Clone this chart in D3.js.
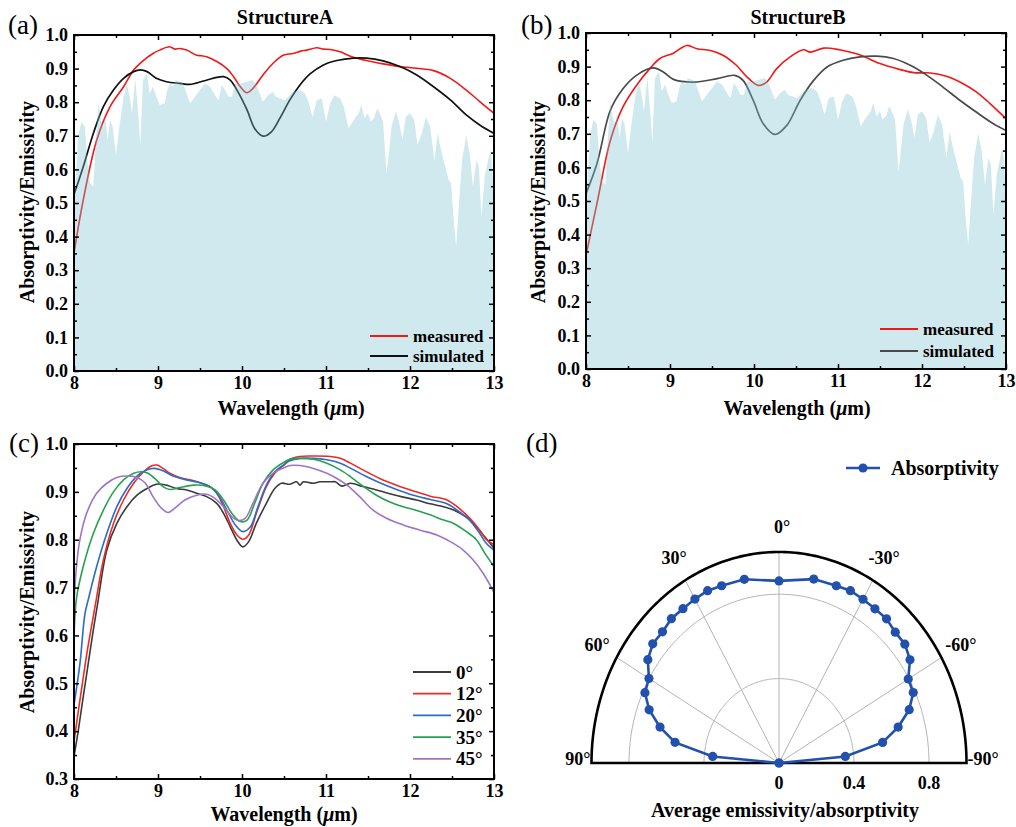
<!DOCTYPE html>
<html>
<head>
<meta charset="utf-8">
<script src="https://cdn.jsdelivr.net/npm/d3@7"></script>
<style>
  body { margin: 0; background: #fff; }
  svg text { font-family: "Liberation Serif", "Times New Roman", serif; }
</style>
</head>
<body>
<svg id="fig" width="1016" height="827"></svg>
<script>
// ---------- Spectra: [wavelength (µm), absorptivity] ----------
const atmosphericWindow = [
  [8.00,0.50],[8.01,0.53],[8.05,0.70],[8.09,0.742],[8.13,0.727],[8.16,0.62],[8.19,0.56],[8.23,0.548],
  [8.26,0.688],[8.29,0.797],[8.32,0.747],[8.35,0.727],[8.37,0.762],[8.40,0.688],[8.43,0.747],[8.46,0.727],
  [8.50,0.643],[8.54,0.727],[8.59,0.816],[8.63,0.856],[8.67,0.806],[8.69,0.766],[8.73,0.871],[8.77,0.747],
  [8.79,0.673],[8.82,0.866],[8.87,0.886],[8.90,0.826],[8.94,0.846],[8.98,0.816],[9.02,0.792],[9.08,0.797],
  [9.11,0.836],[9.14,0.856],[9.18,0.846],[9.21,0.866],[9.26,0.861],[9.30,0.856],[9.34,0.826],[9.38,0.797],
  [9.44,0.816],[9.50,0.836],[9.56,0.856],[9.62,0.846],[9.68,0.821],[9.72,0.806],[9.76,0.851],[9.80,0.836],
  [9.84,0.816],[9.88,0.816],[9.92,0.856],[9.98,0.856],[10.06,0.861],[10.13,0.866],[10.18,0.846],[10.25,0.801],
  [10.31,0.821],[10.37,0.831],[10.40,0.816],[10.46,0.811],[10.51,0.806],[10.55,0.816],[10.61,0.831],[10.69,0.836],
  [10.75,0.826],[10.79,0.801],[10.84,0.757],[10.89,0.806],[10.95,0.811],[11.00,0.742],[11.05,0.797],[11.10,0.821],
  [11.17,0.811],[11.21,0.787],[11.27,0.722],[11.33,0.747],[11.39,0.767],[11.42,0.792],[11.46,0.752],[11.50,0.767],
  [11.53,0.742],[11.57,0.752],[11.61,0.782],[11.64,0.767],[11.68,0.742],[11.72,0.588],[11.74,0.628],[11.78,0.727],
  [11.83,0.772],[11.87,0.742],[11.91,0.688],[11.95,0.757],[12.00,0.767],[12.05,0.747],[12.09,0.673],[12.14,0.707],
  [12.19,0.757],[12.24,0.727],[12.29,0.628],[12.33,0.707],[12.36,0.668],[12.42,0.608],[12.46,0.569],[12.49,0.558],
  [12.52,0.449],[12.55,0.370],[12.57,0.449],[12.62,0.628],[12.67,0.702],[12.71,0.648],[12.75,0.549],[12.79,0.628],
  [12.82,0.608],[12.85,0.459],[12.89,0.579],[12.93,0.628],[12.96,0.66],[12.98,0.60],[13.00,0.50]
];

const measuredA = [
  [8.00,0.351],[8.11,0.509],[8.27,0.687],[8.43,0.787],[8.59,0.846],[8.71,0.896],[8.81,0.921],[8.94,0.945],
  [9.02,0.955],[9.14,0.965],[9.20,0.958],[9.26,0.960],[9.34,0.955],[9.46,0.940],[9.52,0.938],[9.58,0.935],
  [9.70,0.921],[9.82,0.900],[9.90,0.876],[9.98,0.846],[10.06,0.828],[10.13,0.841],[10.25,0.881],[10.37,0.916],
  [10.49,0.940],[10.61,0.945],[10.70,0.952],[10.77,0.955],[10.89,0.962],[10.97,0.958],[11.05,0.957],[11.17,0.950],
  [11.29,0.937],[11.48,0.924],[11.68,0.914],[11.88,0.906],[12.08,0.901],[12.28,0.894],[12.48,0.871],[12.67,0.836],
  [12.83,0.802],[13.00,0.767]
];
const simulatedA = [
  [8.00,0.525],[8.11,0.608],[8.23,0.707],[8.35,0.787],[8.47,0.836],[8.59,0.871],[8.71,0.891],[8.79,0.896],
  [8.87,0.891],[8.98,0.871],[9.10,0.861],[9.26,0.856],[9.38,0.853],[9.54,0.863],[9.70,0.874],[9.78,0.876],
  [9.86,0.866],[9.94,0.836],[10.06,0.777],[10.15,0.722],[10.25,0.699],[10.35,0.712],[10.45,0.752],[10.57,0.807],
  [10.69,0.851],[10.81,0.884],[10.97,0.911],[11.13,0.924],[11.33,0.931],[11.48,0.931],[11.68,0.923],[11.88,0.906],
  [12.08,0.881],[12.28,0.846],[12.48,0.807],[12.67,0.762],[12.83,0.732],[13.00,0.707]
];
const measuredB = [
  [8.00,0.338],[8.13,0.492],[8.29,0.680],[8.44,0.780],[8.60,0.844],[8.76,0.894],[8.88,0.924],[9.04,0.940],
  [9.20,0.963],[9.32,0.953],[9.48,0.948],[9.63,0.934],[9.79,0.904],[9.91,0.871],[10.05,0.844],[10.15,0.854],
  [10.27,0.894],[10.43,0.929],[10.59,0.950],[10.67,0.943],[10.83,0.955],[11.02,0.950],[11.22,0.938],[11.30,0.931],
  [11.50,0.909],[11.70,0.894],[11.90,0.882],[12.10,0.881],[12.29,0.871],[12.49,0.849],[12.65,0.824],[12.81,0.790],
  [13.00,0.745]
];
const simulatedB = [
  [8.00,0.522],[8.13,0.611],[8.29,0.770],[8.44,0.834],[8.60,0.874],[8.80,0.896],[8.92,0.884],[9.04,0.862],
  [9.28,0.854],[9.56,0.864],[9.77,0.874],[9.87,0.859],[9.99,0.800],[10.11,0.730],[10.25,0.698],[10.39,0.725],
  [10.55,0.800],[10.71,0.859],[10.87,0.899],[11.06,0.919],[11.26,0.929],[11.46,0.931],[11.66,0.924],[11.86,0.904],
  [12.06,0.874],[12.25,0.839],[12.45,0.800],[12.65,0.764],[12.85,0.730],[13.00,0.710]
];

// Angle-resolved spectra (panel c)
const angleLabels = ["0°", "12°", "20°", "35°", "45°"];
const angleColors = ["#3a3a3a", "#ee2a24", "#2a6cc8", "#27a050", "#a074c4"];
const spectrum0 = [
  [8.00,0.347],[8.05,0.40],[8.10,0.46],[8.16,0.53],[8.22,0.60],[8.28,0.665],[8.39,0.778],[8.51,0.834],
  [8.63,0.869],[8.75,0.893],[8.87,0.907],[8.98,0.916],[9.10,0.914],[9.22,0.907],[9.34,0.904],[9.46,0.897],
  [9.58,0.890],[9.70,0.876],[9.78,0.855],[9.86,0.827],[9.94,0.799],[10.01,0.785],[10.08,0.796],[10.17,0.834],
  [10.29,0.876],[10.39,0.907],[10.47,0.918],[10.57,0.916],[10.65,0.921],[10.69,0.914],[10.73,0.921],[10.85,0.918],
  [10.93,0.921],[11.05,0.921],[11.11,0.921],[11.19,0.912],[11.29,0.918],[11.44,0.911],[11.60,0.904],[11.76,0.896],
  [11.92,0.889],[12.08,0.883],[12.24,0.875],[12.40,0.869],[12.52,0.862],[12.67,0.847],[12.79,0.827],[12.89,0.806],
  [13.00,0.782]
];
const spectrum12 = [
  [8.00,0.378],[8.05,0.44],[8.10,0.50],[8.16,0.57],[8.22,0.63],[8.26,0.67],[8.35,0.758],[8.47,0.834],
  [8.59,0.883],[8.71,0.918],[8.83,0.942],[8.92,0.954],[8.99,0.956],[9.06,0.949],[9.14,0.939],[9.26,0.930],
  [9.38,0.925],[9.50,0.919],[9.62,0.911],[9.70,0.897],[9.78,0.869],[9.86,0.834],[9.94,0.810],[10.01,0.801],
  [10.08,0.810],[10.17,0.855],[10.29,0.911],[10.39,0.939],[10.51,0.958],[10.57,0.968],[10.69,0.974],[10.85,0.975],
  [11.05,0.974],[11.17,0.970],[11.29,0.960],[11.44,0.946],[11.64,0.928],[11.84,0.914],[12.04,0.902],[12.24,0.891],
  [12.44,0.883],[12.56,0.869],[12.71,0.845],[12.83,0.820],[12.91,0.800],[13.00,0.790]
];
const spectrum20 = [
  [8.00,0.455],[8.07,0.54],[8.13,0.645],[8.17,0.675],[8.27,0.744],[8.39,0.813],[8.51,0.869],[8.63,0.907],
  [8.75,0.933],[8.87,0.946],[8.96,0.949],[9.06,0.944],[9.18,0.933],[9.34,0.925],[9.50,0.919],[9.62,0.911],
  [9.72,0.893],[9.82,0.862],[9.92,0.831],[10.01,0.817],[10.10,0.827],[10.19,0.869],[10.29,0.914],[10.39,0.942],
  [10.51,0.958],[10.57,0.965],[10.69,0.970],[10.85,0.970],[11.01,0.967],[11.17,0.960],[11.33,0.946],[11.48,0.932],
  [11.64,0.919],[11.84,0.905],[12.04,0.893],[12.24,0.884],[12.44,0.875],[12.59,0.858],[12.71,0.841],[12.83,0.813],
  [12.91,0.792],[13.00,0.778]
];
const spectrum35 = [
  [8.00,0.597],[8.03,0.678],[8.11,0.744],[8.23,0.813],[8.35,0.862],[8.47,0.900],[8.59,0.925],[8.71,0.939],
  [8.81,0.942],[8.88,0.939],[8.98,0.925],[9.06,0.911],[9.14,0.905],[9.26,0.909],[9.42,0.914],[9.58,0.912],
  [9.68,0.904],[9.78,0.883],[9.88,0.855],[9.98,0.838],[10.06,0.841],[10.15,0.876],[10.25,0.918],[10.37,0.946],
  [10.51,0.963],[10.57,0.968],[10.69,0.970],[10.85,0.968],[11.01,0.960],[11.17,0.946],[11.29,0.932],[11.44,0.912],
  [11.60,0.893],[11.76,0.879],[11.92,0.869],[12.08,0.861],[12.24,0.852],[12.40,0.841],[12.52,0.834],[12.67,0.817],
  [12.79,0.800],[12.89,0.772],[13.00,0.744]
];
const spectrum45 = [
  [8.00,0.667],[8.03,0.745],[8.07,0.800],[8.15,0.855],[8.27,0.897],[8.39,0.918],[8.51,0.930],[8.63,0.933],
  [8.75,0.930],[8.85,0.918],[8.94,0.890],[9.04,0.866],[9.12,0.857],[9.20,0.866],[9.32,0.883],[9.46,0.893],
  [9.58,0.895],[9.68,0.886],[9.78,0.869],[9.88,0.848],[9.96,0.840],[10.04,0.845],[10.13,0.876],[10.25,0.918],
  [10.37,0.939],[10.51,0.951],[10.57,0.955],[10.69,0.955],[10.85,0.949],[11.01,0.939],[11.13,0.928],[11.25,0.914],
  [11.40,0.890],[11.56,0.862],[11.72,0.845],[11.92,0.831],[12.12,0.820],[12.32,0.810],[12.48,0.796],[12.63,0.779],
  [12.75,0.758],[12.87,0.730],[13.00,0.690]
];
const angleSpectra = [spectrum0, spectrum12, spectrum20, spectrum35, spectrum45];

// Average absorptivity versus incidence angle (panel d)
const incidenceAngles = [-90,-85,-80,-75,-70,-65,-60,-55,-50,-45,-40,-35,-30,-25,-20,-12,0,
                          12,20,25,30,35,40,45,50,55,60,65,70,75,80,85,90];
const avgAbsorptivity = [0,0.355,0.561,0.658,0.739,0.790,0.796,0.853,0.876,0.877,0.892,0.892,0.896,0.901,0.894,0.891,0.863,
                         0.890,0.894,0.901,0.897,0.893,0.893,0.879,0.879,0.854,0.801,0.789,0.737,0.657,0.563,0.355,0];
const polarAngleTicks = [90, 60, 30, 0, -30, -60, -90];
const polarSpokes = [60, 30, 0, -30, -60];
const polarRadiusTicks = [0, 0.4, 0.8];

const wlTicks = [8, 9, 10, 11, 12, 13];
const wlMinor = [8.5, 9.5, 10.5, 11.5, 12.5];

// ---------- drawing ----------
const svg = d3.select("#fig");
const FONT = "'Liberation Serif','Times New Roman',serif";

function styleAxis(sel, size) {
  sel.select(".domain").remove();
  sel.selectAll(".tick line").attr("stroke", "#000").attr("stroke-width", 1.5);
  sel.selectAll(".tick text").attr("fill", "#000").attr("font-size", size)
     .attr("font-weight", "bold").attr("font-family", FONT);
}

function frame(g, x, y, yTicks, yMinor) {
  const [x0, x1] = x.range(), [y0, y1] = y.range();
  const bottom = g.append("g").attr("transform", `translate(0,${y0})`)
    .call(d3.axisBottom(x).tickValues(wlTicks).tickSize(-5).tickPadding(5).tickFormat(d3.format("d")));
  styleAxis(bottom, 18);
  styleAxis(g.append("g").attr("transform", `translate(0,${y0})`)
    .call(d3.axisBottom(x).tickValues(wlMinor).tickSize(-3).tickFormat("")), 0);
  styleAxis(g.append("g").attr("transform", `translate(0,${y1})`)
    .call(d3.axisTop(x).tickValues(wlTicks).tickSize(-5).tickFormat("")), 0);
  styleAxis(g.append("g").attr("transform", `translate(0,${y1})`)
    .call(d3.axisTop(x).tickValues(wlMinor).tickSize(-3).tickFormat("")), 0);
  const left = g.append("g").attr("transform", `translate(${x0},0)`)
    .call(d3.axisLeft(y).tickValues(yTicks).tickSize(-5).tickPadding(6).tickFormat(d3.format(".1f")));
  styleAxis(left, 18);
  styleAxis(g.append("g").attr("transform", `translate(${x0},0)`)
    .call(d3.axisLeft(y).tickValues(yMinor).tickSize(-3).tickFormat("")), 0);
  styleAxis(g.append("g").attr("transform", `translate(${x1},0)`)
    .call(d3.axisRight(y).tickValues(yTicks).tickSize(-5).tickFormat("")), 0);
  styleAxis(g.append("g").attr("transform", `translate(${x1},0)`)
    .call(d3.axisRight(y).tickValues(yMinor).tickSize(-3).tickFormat("")), 0);
  g.append("rect").attr("x", x0).attr("y", y1).attr("width", x1 - x0).attr("height", y0 - y1)
    .attr("fill", "none").attr("stroke", "#000").attr("stroke-width", 2);
}

function wavelengthTitle(g, cx, baseline) {
  const t = g.append("text").attr("x", cx).attr("y", baseline).attr("text-anchor", "middle")
    .attr("font-size", 20).attr("font-weight", "bold").attr("font-family", FONT);
  t.append("tspan").text("Wavelength (");
  t.append("tspan").attr("font-style", "italic").text("μ");
  t.append("tspan").text("m)");
}
function yTitle(g, cx, cy) {
  g.append("text").attr("transform", `translate(${cx},${cy}) rotate(-90)`)
    .attr("text-anchor", "middle").attr("dominant-baseline", "central")
    .attr("font-size", 20).attr("font-weight", "bold").attr("font-family", FONT)
    .text("Absorptivity/Emissivity");
}
function panelTag(g, x, y, s) {
  g.append("text").attr("x", x).attr("y", y).attr("font-size", 27).attr("font-family", FONT).text(s);
}
function legendEntry(g, x, y, color, label, size, width) {
  g.append("line").attr("x1", x).attr("x2", x + 38).attr("y1", y).attr("y2", y)
    .attr("stroke", color).attr("stroke-width", width);
  g.append("text").attr("x", x + 43).attr("y", y).attr("dominant-baseline", "central")
    .attr("font-size", size).attr("font-weight", "bold").attr("font-family", FONT).text(label);
}

// ----- panels (a) and (b) -----
function structurePanel(id, box, title, titleX, measured, simulated, simColor, legendPos, tag, tagX, xTitleX, yTitleX) {
  const g = svg.append("g");
  const x = d3.scaleLinear().domain([8, 13]).range([box.l, box.r]);
  const y = d3.scaleLinear().domain([0, 1]).range([box.b, box.t]);
  g.append("clipPath").attr("id", id).append("rect")
    .attr("x", box.l).attr("y", box.t).attr("width", box.r - box.l).attr("height", box.b - box.t);
  const plot = g.append("g").attr("clip-path", `url(#${id})`);
  const line = d3.line().x(d => x(d[0])).y(d => y(d[1])).curve(d3.curveCatmullRom.alpha(0.5));
  plot.append("path").datum(measured).attr("d", line).attr("fill", "none")
    .attr("stroke", "#f01818").attr("stroke-width", 1.6);
  plot.append("path").datum(simulated).attr("d", line).attr("fill", "none")
    .attr("stroke", simColor).attr("stroke-width", 1.7);
  const area = d3.area().x(d => x(d[0])).y0(y(0)).y1(d => y(d[1]));
  plot.append("path").datum(atmosphericWindow).attr("d", area)
    .attr("fill", "rgb(125,194,208)").attr("fill-opacity", 0.36);
  frame(g, x, y, d3.range(0, 1.01, 0.1).map(v => +v.toFixed(1)), d3.range(0.05, 1, 0.1).map(v => +v.toFixed(2)));
  g.append("text").attr("x", titleX).attr("y", 24).attr("text-anchor", "middle")
    .attr("font-size", 20).attr("font-weight", "bold").attr("font-family", FONT).text(title);
  legendEntry(g, legendPos[0], legendPos[1], "#f01818", "measured", 17, 1.8);
  legendEntry(g, legendPos[0], legendPos[2], simColor, "simulated", 17, 1.8);
  wavelengthTitle(g, xTitleX, 415);
  yTitle(g, yTitleX, 202);
  panelTag(g, tagX, 34, tag);
}
structurePanel("clipA", {l: 74, r: 494, t: 35, b: 371}, "StructureA", 285, measuredA, simulatedA, "#111",
               [370, 336, 356], "(a)", 8, 291, 27);
structurePanel("clipB", {l: 586, r: 1006, t: 33, b: 369}, "StructureB", 798, measuredB, simulatedB, "#4a4a4a",
               [880, 329, 351], "(b)", 521, 797, 538);

// ----- panel (c) -----
{
  const g = svg.append("g");
  const box = {l: 74, r: 494, t: 444, b: 779};
  const x = d3.scaleLinear().domain([8, 13]).range([box.l, box.r]);
  const y = d3.scaleLinear().domain([0.3, 1]).range([box.b, box.t]);
  g.append("clipPath").attr("id", "clipC").append("rect")
    .attr("x", box.l).attr("y", box.t).attr("width", box.r - box.l).attr("height", box.b - box.t);
  const plot = g.append("g").attr("clip-path", "url(#clipC)");
  const line = d3.line().x(d => x(d[0])).y(d => y(d[1])).curve(d3.curveCatmullRom.alpha(0.5));
  angleSpectra.forEach((s, i) => {
    plot.append("path").datum(s).attr("d", line).attr("fill", "none")
      .attr("stroke", angleColors[i]).attr("stroke-width", 1.6);
  });
  frame(g, x, y, d3.range(0.3, 1.01, 0.1).map(v => +v.toFixed(1)), d3.range(0.35, 1, 0.1).map(v => +v.toFixed(2)));
  angleLabels.forEach((lab, i) => legendEntry(g, 413, 672 + i * 21.7, angleColors[i], lab, 19, 1.8));
  wavelengthTitle(g, 284, 821);
  yTitle(g, 27, 612);
  panelTag(g, 9, 452, "(c)");
}

// ----- panel (d): polar plot -----
{
  const g = svg.append("g");
  const cx = 779, cy = 763;
  const rx = d3.scaleLinear().domain([0, 1]).range([0, 187.5]);
  const ry = d3.scaleLinear().domain([0, 1]).range([0, 211]);
  const rad = a => a * Math.PI / 180;
  const px = (a, r) => cx - rx(r) * Math.sin(rad(a));
  const py = (a, r) => cy - ry(r) * Math.cos(rad(a));
  const arc = r => d3.line().x(a => px(a, r)).y(a => py(a, r))(d3.range(-90, 90.01, 1));

  // grid
  polarRadiusTicks.filter(r => r > 0).forEach(r => {
    g.append("path").attr("d", arc(r)).attr("fill", "none").attr("stroke", "#b4b4b4").attr("stroke-width", 1);
  });
  polarSpokes.forEach(a => {
    g.append("line").attr("x1", cx).attr("y1", cy).attr("x2", px(a, 1)).attr("y2", py(a, 1))
      .attr("stroke", "#b4b4b4").attr("stroke-width", 1);
  });
  // outer frame
  g.append("path").attr("d", arc(1) + "Z").attr("fill", "none").attr("stroke", "#000").attr("stroke-width", 2.6);

  // data
  const pts = incidenceAngles.map((a, i) => [a, avgAbsorptivity[i]]);
  g.append("path").datum(pts).attr("d", d3.line().x(d => px(d[0], d[1])).y(d => py(d[0], d[1])))
    .attr("fill", "none").attr("stroke", "#2250ad").attr("stroke-width", 2.6);
  g.selectAll("circle.pt").data(pts).join("circle").attr("class", "pt")
    .attr("cx", d => px(d[0], d[1])).attr("cy", d => py(d[0], d[1])).attr("r", 4.6).attr("fill", "#2250ad");

  // angle labels
  polarAngleTicks.forEach(a => {
    const t = g.append("text").attr("dominant-baseline", "central")
      .attr("font-size", 18).attr("font-weight", "bold").attr("font-family", FONT).text(a + "°");
    if (Math.abs(a) === 90) {
      t.attr("x", px(a, 1) + (a > 0 ? -1 : 1)).attr("y", cy - 4).attr("text-anchor", a > 0 ? "end" : "start");
    } else {
      t.attr("x", px(a, 1.12) + (a === 0 ? 3 : 0)).attr("y", py(a, 1.12)).attr("text-anchor", "middle");
    }
  });
  // radial labels
  polarRadiusTicks.forEach(r => {
    g.append("text").attr("x", px(-90, r)).attr("y", 789).attr("text-anchor", "middle")
      .attr("font-size", 18).attr("font-weight", "bold").attr("font-family", FONT).text(r === 0 ? "0" : r.toFixed(1));
  });
  g.append("text").attr("x", 785).attr("y", 817).attr("text-anchor", "middle")
    .attr("font-size", 20).attr("font-weight", "bold").attr("font-family", FONT)
    .text("Average emissivity/absorptivity");

  // legend
  g.append("line").attr("x1", 846).attr("x2", 880).attr("y1", 468).attr("y2", 468)
    .attr("stroke", "#2250ad").attr("stroke-width", 2.6);
  g.append("circle").attr("cx", 863).attr("cy", 468).attr("r", 4.6).attr("fill", "#2250ad");
  g.append("text").attr("x", 891).attr("y", 468).attr("dominant-baseline", "central")
    .attr("font-size", 20).attr("font-weight", "bold").attr("font-family", FONT).text("Absorptivity");

  panelTag(g, 526, 452, "(d)");
}
</script>
</body>
</html>
